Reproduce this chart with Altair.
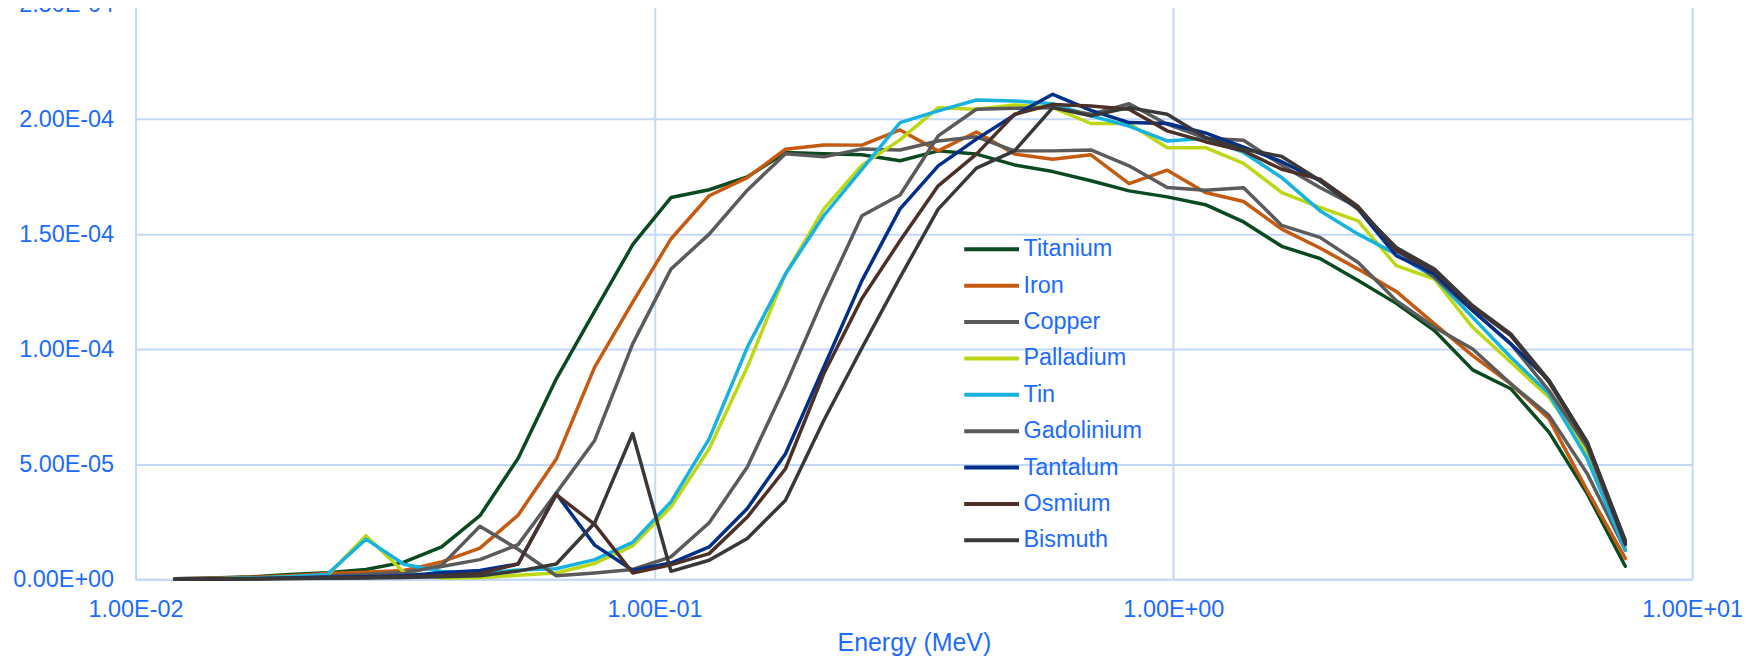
import altair as alt
import pandas as pd

energy = [0.0119, 0.0141, 0.0167, 0.0198, 0.0234, 0.0278, 0.0329, 0.0389, 0.0461, 0.0546,
          0.0647, 0.0767, 0.0908, 0.1076, 0.1275, 0.151, 0.1789, 0.212, 0.2511, 0.2974,
          0.3523, 0.4174, 0.4943, 0.5857, 0.6938, 0.8218, 0.9734, 1.153, 1.366, 1.618,
          1.917, 2.271, 2.69, 3.186, 3.775, 4.471, 5.297, 6.275, 7.433]

# values in units of 1E-05
titanium = [0.02, 0.05, 0.10, 0.20, 0.28, 0.42, 0.74, 1.40, 2.76, 5.25, 8.71, 11.65, 14.54, 16.59,
            16.93, 17.49, 18.55, 18.50, 18.45, 18.19, 18.62, 18.48, 18.01, 17.72, 17.32, 16.88,
            16.62, 16.28, 15.53, 14.47, 13.94, 12.98, 11.99, 10.81, 9.10, 8.28, 6.39, 3.72, 0.56]
iron = [0.02, 0.04, 0.08, 0.15, 0.25, 0.30, 0.38, 0.75, 1.35, 2.78, 5.22, 9.22, 12.04, 14.79,
        16.67, 17.46, 18.69, 18.88, 18.87, 19.53, 18.62, 19.44, 18.48, 18.26, 18.45, 17.20,
        17.78, 16.81, 16.42, 15.22, 14.40, 13.48, 12.51, 11.10, 9.72, 8.49, 6.97, 3.86, 0.90]
copper = [0.01, 0.03, 0.05, 0.10, 0.15, 0.20, 0.30, 0.55, 0.85, 1.50, 3.75, 6.03, 10.23, 13.48,
          15.00, 16.91, 18.50, 18.36, 18.70, 18.66, 19.05, 19.23, 18.62, 18.62, 18.66, 17.97,
          17.03, 16.91, 17.02, 15.38, 14.86, 13.77, 12.11, 10.95, 10.01, 8.49, 7.12, 4.59, 1.26]
palladium = [0.00, 0.02, 0.04, 0.10, 0.15, 1.89, 0.30, 0.05, 0.06, 0.17, 0.27, 0.68, 1.45, 3.14,
             5.67, 9.22, 13.27, 16.09, 18.00, 19.10, 20.50, 20.43, 20.62, 20.50, 19.81, 19.81,
             18.76, 18.76, 18.08, 16.81, 16.16, 15.58, 13.63, 13.05, 10.95, 9.43, 7.91, 5.53, 1.33]
tin = [0.00, 0.02, 0.05, 0.10, 0.20, 1.74, 0.65, 0.33, 0.25, 0.40, 0.45, 0.85, 1.60, 3.36,
       6.10, 10.08, 13.27, 15.80, 17.82, 19.85, 20.36, 20.83, 20.79, 20.67, 20.14, 19.70,
       19.05, 19.17, 18.55, 17.46, 16.02, 15.00, 14.13, 13.12, 11.39, 9.65, 8.06, 5.24, 1.26]
gadolinium = [0.00, 0.01, 0.03, 0.05, 0.10, 0.15, 0.25, 0.60, 2.30, 1.30, 0.15, 0.27, 0.42, 0.97,
              2.45, 4.88, 8.42, 12.25, 15.80, 16.70, 19.27, 20.43, 20.47, 20.50, 20.21, 20.67,
              19.78, 19.17, 19.08, 18.00, 17.03, 16.16, 14.35, 13.12, 11.68, 10.23, 8.20, 5.74, 1.48]
tantalum = [0.00, 0.01, 0.02, 0.05, 0.08, 0.10, 0.15, 0.28, 0.38, 0.66, 3.71, 1.48, 0.39, 0.70,
            1.40, 3.07, 5.45, 9.22, 12.98, 16.10, 17.97, 19.13, 20.18, 21.08, 20.38, 19.85,
            19.81, 19.40, 18.78, 18.15, 17.32, 16.09, 14.06, 13.27, 11.68, 10.23, 8.64, 5.96, 1.55]
osmium = [0.00, 0.01, 0.02, 0.03, 0.05, 0.07, 0.10, 0.15, 0.25, 0.66, 3.68, 2.38, 0.27, 0.62,
          1.11, 2.70, 4.80, 8.93, 12.20, 14.71, 17.10, 18.48, 20.21, 20.64, 20.57, 20.43,
          19.49, 19.02, 18.62, 17.82, 17.39, 16.20, 14.28, 13.41, 11.82, 10.59, 8.56, 5.89, 1.62]
bismuth = [0.00, 0.01, 0.02, 0.03, 0.04, 0.05, 0.07, 0.10, 0.15, 0.35, 0.66, 2.44, 6.33, 0.34,
           0.82, 1.77, 3.43, 6.90, 10.05, 13.12, 16.09, 17.87, 18.62, 20.50, 20.14, 20.50,
           20.21, 19.20, 18.69, 18.38, 17.33, 16.09, 14.42, 13.48, 11.89, 10.66, 8.64, 5.96, 1.69]

names = ["Titanium", "Iron", "Copper", "Palladium", "Tin", "Gadolinium", "Tantalum", "Osmium", "Bismuth"]
series = [titanium, iron, copper, palladium, tin, gadolinium, tantalum, osmium, bismuth]
colors = ["#0a4a20", "#c55a11", "#5b5b5b", "#bdd812", "#17b2e0", "#5a5a5a", "#002f8a", "#4c3027", "#383838"]

x_ticks = [0.01, 0.1, 1, 10]
y_ticks = [0, 5e-5, 1e-4, 1.5e-4, 2e-4, 2.5e-4]

rows = []
for name, vals in zip(names, series):
    for e, v in zip(energy, vals):
        rows.append({"Energy": e, "Value": v * 1e-5, "Element": name})
df = pd.DataFrame(rows)

BLUE = "#1b6bff"
GRID = "#c6d8f7"
FONT = "Liberation Sans"
sci = "replace(replace(format(datum.value, '.2e'), 'e-', 'E-0'), 'e+', 'E+0')"

chart = alt.Chart(df).mark_line(strokeWidth=3.5, strokeCap="round", strokeJoin="round").encode(
    x=alt.X("Energy:Q",
            scale=alt.Scale(type="log", domain=[0.01, 10], nice=False),
            axis=alt.Axis(values=x_ticks, labelExpr=sci, title="Energy (MeV)",
                          grid=True, gridColor=GRID, gridWidth=2,
                          domainColor=GRID, domainWidth=2,
                          ticks=False, tickSize=0, labelPadding=18,
                          labelFontSize=23.5, labelColor=BLUE, labelFont=FONT,
                          labelFlush=False, labelOverlap=False,
                          titleFontSize=25, titleColor=BLUE, titleFont=FONT,
                          titleFontWeight="normal", titlePadding=10)),
    y=alt.Y("Value:Q",
            scale=alt.Scale(domain=[0, 2.5e-4], nice=False),
            axis=alt.Axis(values=y_ticks, labelExpr=sci, title=None,
                          grid=True, gridColor=GRID, gridWidth=2,
                          domainColor=GRID, domainWidth=2,
                          ticks=False, tickSize=0, labelPadding=22,
                          labelFontSize=23.5, labelColor=BLUE, labelFont=FONT,
                          labelFlush=False, labelOverlap=False)),
    color=alt.Color("Element:N", sort=names,
                    scale=alt.Scale(domain=names, range=colors),
                    legend=alt.Legend(orient="none", legendX=843, legendY=230, title=None,
                                      symbolType="M-2,0L2,0", symbolSize=756, symbolStrokeWidth=4,
                                      labelFontSize=23.5, labelColor=BLUE, labelFont=FONT,
                                      labelOffset=16, rowPadding=8.5, padding=0)),
).properties(
    width=1562, height=577,
    autosize=alt.AutoSizeParams(type="none"),
    padding={"left": 128, "top": -5, "right": 50, "bottom": 78},
).configure_view(strokeWidth=0)

chart.save("out.html", embed_options={"renderer": "svg", "actions": False})
